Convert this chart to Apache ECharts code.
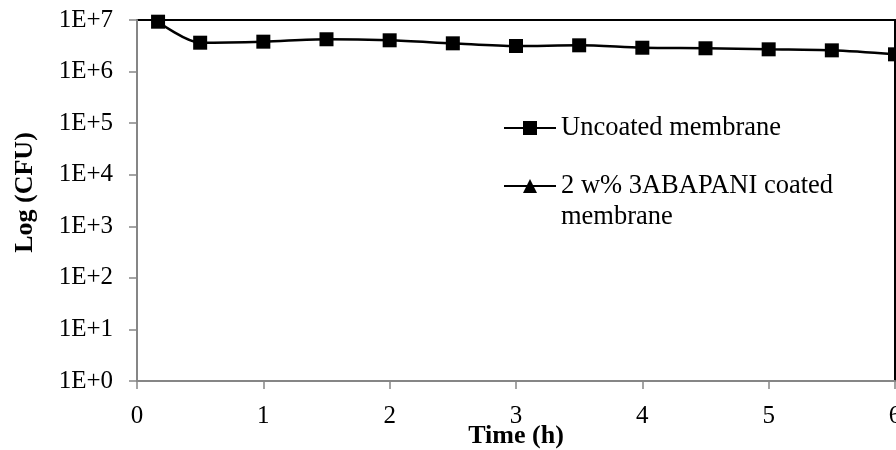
<!DOCTYPE html>
<html>
<head>
<meta charset="utf-8">
<script src="https://cdn.jsdelivr.net/npm/echarts@6/dist/echarts.min.js"></script>
<style>
html,body{margin:0;padding:0;background:#fff;}
#chart{width:896px;height:450px;}
</style>
</head>
<body>
<div id="chart"></div>
<script>
// Data
var timeHours = [0.1667, 0.5, 1, 1.5, 2, 2.5, 3, 3.5, 4, 4.5, 5, 5.5, 6];
var uncoatedCFU = [9.27e6, 3.63e6, 3.80e6, 4.23e6, 4.04e6, 3.53e6, 3.13e6, 3.23e6, 2.90e6, 2.83e6, 2.70e6, 2.58e6, 2.16e6];
var coatedCFU = []; // no visible points in the reference
var seriesNames = ['Uncoated membrane', '2 w% 3ABAPANI coated membrane'];
var xAxisTitle = 'Time (h)';
var yAxisTitle = 'Log (CFU)';

var FONT = '"Liberation Serif", "Times New Roman", serif';

function pairs(xs, ys) {
  var out = [];
  for (var i = 0; i < ys.length; i++) out.push([xs[i], ys[i]]);
  return out;
}

var legendBase = {
  orient: 'vertical',
  left: 503,
  padding: 0,
  itemWidth: 52,
  itemHeight: 17.5
};

var chart = echarts.init(document.getElementById('chart'), null, {renderer: 'canvas'});
chart.setOption({
  animation: false,
  backgroundColor: '#fff',
  textStyle: {fontFamily: FONT, color: '#000'},
  grid: {
    left: 137, right: 1, top: 20, bottom: 69,
    containLabel: false,
    outerBoundsMode: 'none',
    show: true, borderColor: '#000', borderWidth: 2, backgroundColor: 'transparent'
  },
  legend: [
    Object.assign({}, legendBase, {
      top: 112.5,
      data: [seriesNames[0]],
      textStyle: {fontFamily: FONT, fontSize: 26.5, color: '#000', lineHeight: 31}
    }),
    Object.assign({}, legendBase, {
      top: 139.5,
      data: [seriesNames[1]],
      // leading empty line keeps the icon level with the first text line
      formatter: function (name) { return '\n' + name; },
      textStyle: {fontFamily: FONT, fontSize: 26.5, color: '#000', lineHeight: 31,
                  width: 290, overflow: 'break'}
    })
  ],
  xAxis: {
    type: 'value',
    min: 0, max: 6, interval: 1,
    name: xAxisTitle,
    nameLocation: 'middle',
    nameGap: 42,
    nameMoveOverlap: false,
    nameTextStyle: {fontFamily: FONT, fontSize: 26, fontWeight: 'bold', color: '#000', lineHeight: 26},
    axisLine: {show: true, onZero: false, lineStyle: {color: '#868686', width: 2}},
    axisTick: {show: true, length: 8, lineStyle: {color: '#868686', width: 1.5}},
    axisLabel: {fontFamily: FONT, fontSize: 25, color: '#000', margin: 23, lineHeight: 25, hideOverlap: false},
    splitLine: {show: false}
  },
  yAxis: {
    type: 'log',
    logBase: 10,
    min: 1, max: 1e7, interval: 1,
    name: yAxisTitle,
    nameLocation: 'middle',
    nameGap: 99,
    nameRotate: 90,
    nameMoveOverlap: false,
    nameTextStyle: {fontFamily: FONT, fontSize: 26, fontWeight: 'bold', color: '#000', lineHeight: 26, padding: [0, 0, 0, 16]},
    axisLine: {show: true, lineStyle: {color: '#868686', width: 2}},
    axisTick: {show: true, length: 8, lineStyle: {color: '#868686', width: 1.5}},
    axisLabel: {
      fontFamily: FONT, fontSize: 25, color: '#000', margin: 24,
      formatter: function (v) { return '1E+' + Math.round(Math.log10(v)); }
    },
    splitLine: {show: false},
    minorTick: {show: false}
  },
  series: [
    {
      name: seriesNames[0],
      type: 'line',
      data: pairs(timeHours, uncoatedCFU),
      symbol: 'rect',
      symbolSize: 14,
      smooth: 0.3,
      lineStyle: {color: '#000', width: 2.5},
      itemStyle: {color: '#000'},
      clip: false,
      z: 3
    },
    {
      name: seriesNames[1],
      type: 'line',
      data: pairs(timeHours, coatedCFU),
      symbol: 'triangle',
      symbolSize: 14,
      lineStyle: {color: '#000', width: 2.5},
      itemStyle: {color: '#000'}
    }
  ]
});
</script>
</body>
</html>
